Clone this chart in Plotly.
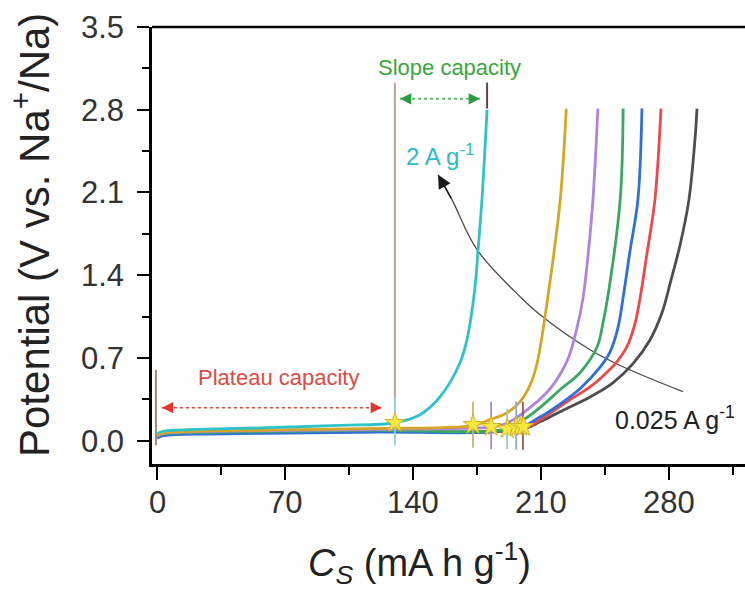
import plotly.graph_objects as go

# ---------------- data ----------------
# capacity (mA h g-1) and potential (V) for each current density
cap_2A = [0, 3, 20, 60, 100, 130.0, 143.7, 154.7, 165.6, 169.4, 173.8, 175.4, 177.6, 180.4]
v_2A = [0.06, 0.08, 0.095, 0.11, 0.13, 0.152, 0.22, 0.372, 0.66, 0.855, 1.30, 1.60, 2.039, 2.80]

cap_1A = [0, 3, 20, 60, 120, 172.7, 182.0, 191.4, 198.5, 204.0, 207.8, 213.8, 220.4, 223.7]
v_1A = [0.045, 0.065, 0.08, 0.09, 0.105, 0.128, 0.178, 0.237, 0.33, 0.474, 0.66, 1.235, 2.039, 2.81]

cap_05A = [0, 3, 20, 60, 120, 182.6, 190.0, 197.0, 203.0, 209.3, 216.4, 224.6, 229.5, 232.8, 235.5, 238.3, 241.0]
v_05A = [0.04, 0.06, 0.075, 0.085, 0.095, 0.115, 0.14, 0.20, 0.27, 0.35, 0.47, 0.69, 0.95, 1.20, 1.55, 2.039, 2.81]

cap_02A = [0, 3, 20, 60, 120, 191.4, 201.1, 209.3, 220.3, 231.2, 240.6, 243.8, 246.6, 253.2, 254.8]
v_02A = [0.035, 0.055, 0.068, 0.078, 0.088, 0.10, 0.185, 0.28, 0.431, 0.575, 0.795, 0.998, 1.235, 2.039, 2.81]

cap_01A = [0, 3, 20, 60, 120, 196.3, 209.3, 220.3, 231.2, 242.1, 247.6, 251.9, 254.7, 258.5, 262.9, 265.1]
v_01A = [0.02, 0.04, 0.055, 0.063, 0.072, 0.10, 0.20, 0.31, 0.44, 0.62, 0.75, 0.95, 1.20, 1.60, 2.04, 2.81]

cap_005A = [0, 3, 20, 60, 120, 200.0, 209.3, 224.1, 236.7, 246.0, 251.5, 256.9, 261.3, 264.0, 268.0, 272.2, 275.5]
v_005A = [0.03, 0.05, 0.062, 0.07, 0.078, 0.10, 0.175, 0.33, 0.455, 0.58, 0.67, 0.795, 0.99, 1.20, 1.60, 2.04, 2.81]

cap_0025A = [0, 3, 20, 60, 120, 200.0, 209.3, 220.3, 236.7, 249.2, 260.1, 269.4, 276.0, 281.0, 286.0, 290.8, 294.1, 295.2]
v_0025A = [0.03, 0.05, 0.062, 0.07, 0.078, 0.10, 0.16, 0.245, 0.37, 0.49, 0.65, 0.85, 1.08, 1.36, 1.66, 2.04, 2.55, 2.81]

series_names = ["0.025 A g-1", "0.05 A g-1", "0.1 A g-1", "0.2 A g-1", "0.5 A g-1", "1 A g-1", "2 A g-1"]
series_caps = [cap_0025A, cap_005A, cap_01A, cap_02A, cap_05A, cap_1A, cap_2A]
series_vs = [v_0025A, v_005A, v_01A, v_02A, v_05A, v_1A, v_2A]
series_colors = ["#4d4d4d", "#f04848", "#2f6fd8", "#3aa862", "#b282e2", "#d6a624", "#2fc3c9"]

# plateau/slope transition points (stars)
star_cap = [130.0, 172.7, 182.6, 191.4, 196.3, 198.6, 200.3]
star_v = [0.152, 0.135, 0.118, 0.10, 0.118, 0.118, 0.118]

# short marker lines at the transition points
mark_cap = [172.7, 182.6, 191.4, 196.3, 200.0, 130.0]
mark_vtop = [0.33, 0.33, 0.27, 0.33, 0.33, 0.37]
mark_vbot = [-0.06, -0.07, -0.07, -0.076, -0.076, -0.04]
mark_colors = ["#cdb469", "#a98ad8", "#93d0ab", "#8faae8", "#9c5a58", "#8fd0d2"]

# guide lines (tan / dark) for plateau and slope regions
guide_cap = [-0.7, 130.0, 180.4]
guide_vtop = [0.60, 3.03, 3.03]
guide_vbot = [-0.04, 0.37, 2.81]
guide_colors = ["#a08878", "#c0a493", "#5a4a46"]

# curved arrow from 0.025 to 2 A g-1
arrow_cap = [153.6, 161.2, 174.9, 198.5, 209.4, 236.7, 254.7, 287.5]
arrow_v = [2.25, 2.04, 1.616, 1.218, 1.066, 0.77, 0.626, 0.415]

x_ticks = [0, 70, 140, 210, 280]
x_minor = [35, 105, 175, 245, 315]
y_ticks = [0.0, 0.7, 1.4, 2.1, 2.8, 3.5]
y_minor = [0.35, 1.05, 1.75, 2.45, 3.15]

FONT = "Liberation Sans, Arial, sans-serif"

# page geometry of the plotting area (px)
L, T, B, W, H = 152, 27, 132, 745, 596
PW = W - L
PH = H - T - B


def py(page_y):
    return (H - B - page_y) / PH


def px(page_x):
    return (page_x - L) / PW


fig = go.Figure()

# guide vertical lines
for c, t, b, col in zip(guide_cap, guide_vtop, guide_vbot, guide_colors):
    fig.add_trace(go.Scatter(x=[c, c], y=[b, t], mode="lines",
                             line=dict(color=col, width=2), hoverinfo="skip", showlegend=False))

# curved arrow body
fig.add_trace(go.Scatter(x=arrow_cap, y=arrow_v, mode="lines",
                         line=dict(color="#4a4a4a", width=1.3, shape="spline", smoothing=1.0),
                         hoverinfo="skip", showlegend=False))

# discharge curves
for name, cx, vy, col in zip(series_names, series_caps, series_vs, series_colors):
    fig.add_trace(go.Scatter(x=cx, y=vy, mode="lines", name=name,
                             line=dict(color=col, width=2.8, shape="spline", smoothing=1.0),
                             showlegend=False))

# short marker lines
for c, t, b, col in zip(mark_cap, mark_vtop, mark_vbot, mark_colors):
    fig.add_trace(go.Scatter(x=[c, c], y=[b, t], mode="lines",
                             line=dict(color=col, width=1.8), hoverinfo="skip", showlegend=False))

# stars
fig.add_trace(go.Scatter(x=star_cap, y=star_v, mode="markers",
                         marker=dict(symbol="star", size=15, color="#f7e83e",
                                     line=dict(color="#cdb52a", width=1)),
                         showlegend=False))

# dashed double arrows
plateau_x = [2.6, 122.9]
plateau_y = [0.279, 0.279]
slope_x = [132.8, 176.5]
slope_y = [2.893, 2.893]
fig.add_trace(go.Scatter(x=plateau_x, y=plateau_y, mode="lines",
                         line=dict(color="#d94a3c", width=1.5, dash="dot"),
                         hoverinfo="skip", showlegend=False))
fig.add_trace(go.Scatter(x=slope_x, y=slope_y, mode="lines",
                         line=dict(color="#5cbb6c", width=2, dash="dot"),
                         hoverinfo="skip", showlegend=False))

annotations = []


def head(x, y, tx, ty, color, size=1.5, width=1.5):
    annotations.append(dict(x=x, y=y, ax=tx, ay=ty, xref="x", yref="y", axref="x", ayref="y",
                            text="", showarrow=True, arrowhead=2, arrowsize=size,
                            arrowwidth=width, arrowcolor=color, standoff=0))


head(plateau_x[0], plateau_y[0], plateau_x[0] + 4, plateau_y[0], "#e0382c")
head(plateau_x[1], plateau_y[1], plateau_x[1] - 4, plateau_y[1], "#e0382c")
head(slope_x[0], slope_y[0], slope_x[0] + 4, slope_y[0], "#2e9a40")
head(slope_x[1], slope_y[1], slope_x[1] - 4, slope_y[1], "#2e9a40")
head(arrow_cap[0], arrow_v[0], arrow_cap[1], arrow_v[1], "#1a1a1a", size=1.8, width=1.5)

# text labels
annotations += [
    dict(x=66.3, y=0.533, xref="x", yref="y", text="Plateau capacity", showarrow=False,
         font=dict(family=FONT, size=22, color="#e04a44")),
    dict(x=159.7, y=3.156, xref="x", yref="y", text="Slope capacity", showarrow=False,
         font=dict(family=FONT, size=22, color="#36a83c")),
    dict(x=154.7, y=2.42, xref="x", yref="y", text="2 A g<sup>-1</sup>", showarrow=False,
         font=dict(family=FONT, size=24, color="#2bbcc4")),
    dict(x=283.2, y=0.195, xref="x", yref="y", text="0.025 A g<sup>-1</sup>", showarrow=False,
         font=dict(family=FONT, size=25, color="#222222")),
    # axis titles
    dict(x=px(419), y=py(563), xref="paper", yref="paper", xanchor="center", yanchor="middle",
         text="<i>C</i><sub><i>S</i></sub> (mA h g<sup>-1</sup>)", showarrow=False,
         font=dict(family=FONT, size=38, color="#222222")),
    dict(x=px(31), y=py(235), xref="paper", yref="paper", xanchor="center", yanchor="middle",
         text="Potential (V vs. Na<sup>+</sup>/Na)", showarrow=False, textangle=-90,
         font=dict(family=FONT, size=42, color="#222222")),
]
# x tick labels
for v in x_ticks:
    annotations.append(dict(x=v, y=py(502), xref="x", yref="paper", xanchor="center", yanchor="middle",
                            text=str(v), showarrow=False,
                            font=dict(family=FONT, size=31, color="#333333")))

fig.update_layout(
    width=W, height=H,
    margin=dict(l=L, r=0, t=T, b=B),
    paper_bgcolor="white", plot_bgcolor="white",
    showlegend=False,
    annotations=annotations,
    shapes=[dict(type="line", xref="paper", yref="paper", x0=0, x1=1, y0=1, y1=1,
                 line=dict(color="black", width=2.5))],
    xaxis=dict(range=[-2.84, 321.45], tickvals=x_ticks, showticklabels=False,
               ticks="outside", ticklen=13, tickwidth=2, tickcolor="black",
               showline=True, linewidth=2.5, linecolor="black", showgrid=False, zeroline=False,
               minor=dict(tickvals=x_minor, ticks="outside", ticklen=8, tickwidth=2, tickcolor="black")),
    yaxis=dict(range=[-0.197, 3.5], tickvals=y_ticks, ticktext=["%.1f" % v for v in y_ticks],
               ticks="outside", ticklen=12, tickwidth=2, tickcolor="black",
               showline=True, linewidth=2.5, linecolor="black", showgrid=False, zeroline=False,
               minor=dict(tickvals=y_minor, ticks="outside", ticklen=7, tickwidth=2, tickcolor="black"),
               tickfont=dict(family=FONT, size=31, color="#333333"), ticklabelstandoff=7),
)

fig.write_html("out.html")
